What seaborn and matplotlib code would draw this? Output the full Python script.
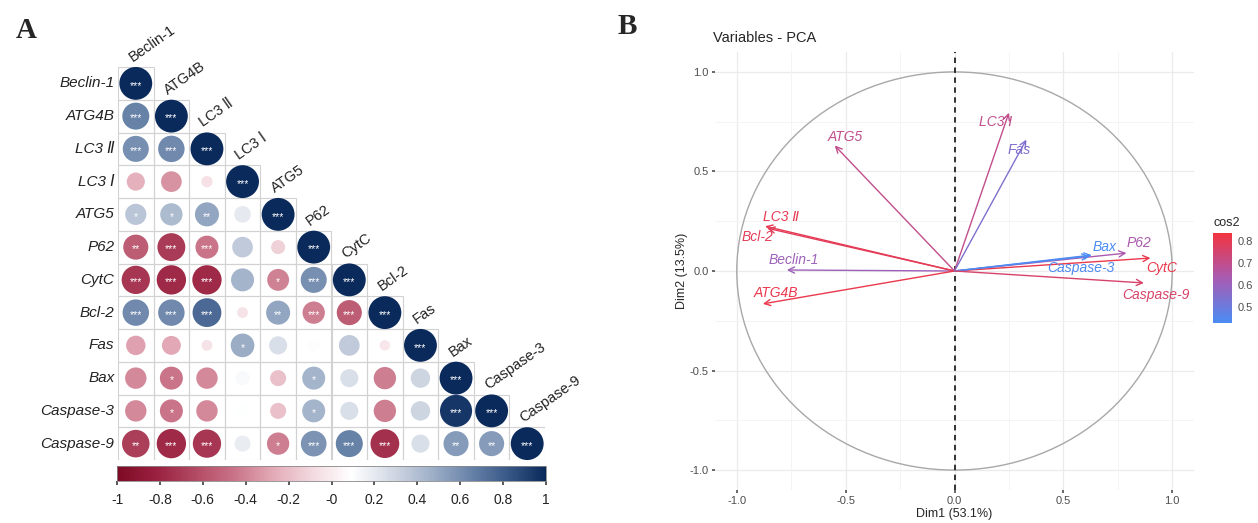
import numpy as np
import pandas as pd
import matplotlib
matplotlib.use('Agg')
import matplotlib.pyplot as plt
import seaborn as sns
from matplotlib.colors import LinearSegmentedColormap, Normalize
from matplotlib.patches import Rectangle, Circle
import matplotlib as mpl

sns.set_theme(style='white')
plt.rcParams['font.family'] = ['Liberation Sans', 'DejaVu Sans']
plt.rcParams['axes.unicode_minus'] = False

# ---- data: correlation matrix (lower triangle, diagonal = 1) ----
genes = ['Beclin-1', 'ATG4B', 'LC3 Ⅱ', 'LC3 Ⅰ', 'ATG5', 'P62', 'CytC',
         'Bcl-2', 'Fas', 'Bax', 'Caspase-3', 'Caspase-9']

corr_rows = [
    [],
    [0.65],
    [0.60, 0.62],
    [-0.25, -0.35, -0.05],
    [0.37, 0.42, 0.50, 0.20],
    [-0.55, -0.70, -0.45, 0.35, -0.12],
    [-0.72, -0.78, -0.78, 0.45, -0.40, 0.60],
    [0.62, 0.62, 0.75, -0.04, 0.50, -0.42, -0.55],
    [-0.30, -0.28, -0.04, 0.48, 0.25, 0.08, 0.35, -0.03],
    [-0.38, -0.45, -0.38, 0.12, -0.18, 0.45, 0.25, -0.42, 0.30],
    [-0.38, -0.45, -0.38, 0.10, -0.18, 0.45, 0.25, -0.42, 0.30, 0.95],
    [-0.68, -0.78, -0.72, 0.18, -0.42, 0.58, 0.65, -0.75, 0.25, 0.55, 0.55],
]
star_rows = [
    [],
    ['***'],
    ['***', '***'],
    ['', '', ''],
    ['*', '*', '**', ''],
    ['**', '***', '***', '', ''],
    ['***', '***', '***', '', '*', '***'],
    ['***', '***', '***', '', '**', '***', '***'],
    ['', '', '', '*', '', '', '', ''],
    ['', '*', '', '', '', '*', '', '', ''],
    ['', '*', '', '', '', '*', '', '', '', '***'],
    ['**', '***', '***', '', '*', '***', '***', '***', '', '**', '**'],
]

# ---- data: PCA variables ----
pca_vars = ['Beclin-1', 'ATG4B', 'LC3 Ⅱ', 'LC3 Ⅰ', 'ATG5', 'P62', 'CytC',
            'Bcl-2', 'Fas', 'Bax', 'Caspase-3', 'Caspase-9']
dim1 = [-0.77, -0.88, -0.87, 0.25, -0.55, 0.79, 0.90, -0.86, 0.33, 0.63, 0.62, 0.87]
dim2 = [0.005, -0.165, 0.225, 0.795, 0.63, 0.09, 0.065, 0.215, 0.66, 0.08, 0.075, -0.06]
cos2 = [0.61, 0.81, 0.80, 0.70, 0.70, 0.64, 0.81, 0.79, 0.55, 0.43, 0.44, 0.76]

# label offsets from arrow tips (layout only)
label_off = {
    'Beclin-1': (0.03, 0.05), 'ATG4B': (0.06, 0.055), 'LC3 Ⅱ': (0.075, 0.045),
    'LC3 Ⅰ': (-0.06, -0.045), 'ATG5': (0.05, 0.045), 'P62': (0.055, 0.05),
    'CytC': (0.05, -0.05), 'Bcl-2': (-0.045, -0.045), 'Fas': (-0.035, -0.05),
    'Bax': (0.06, 0.04), 'Caspase-3': (-0.04, -0.06), 'Caspase-9': (0.055, -0.06),
}

# build long table for the matrix
recs = []
for i, row in enumerate(corr_rows):
    for j, r in enumerate(row + [1.0]):
        st = (star_rows[i] + ['***'])[j]
        recs.append({'row': i, 'col': j, 'r': r, 'size': abs(r), 'stars': st})
df = pd.DataFrame(recs)

corr_cmap = LinearSegmentedColormap.from_list('corr', [
    '#7d0a25', '#9a2140', '#b24a63', '#c97388', '#e3aab7', '#f2d9df', '#ffffff',
    '#d5dbe6', '#a3b3ca', '#6c86ab', '#3a5a88', '#0a2a5c'])
cos2_cmap = LinearSegmentedColormap.from_list('cos2', ['#4a8cf4', '#a85bb2', '#f3333f'])

fig = plt.figure(figsize=(12.58, 5.23), dpi=100)
W, H = 1258, 523

# ---------------- panel A ----------------
ax = fig.add_axes([118 / W, 1 - 460 / H, 427 / W, 393 / H])
n = len(genes)
for i in range(n):
    for j in range(i + 1):
        ax.add_patch(Rectangle((j - 0.5, i - 0.5), 1, 1, fill=False,
                               edgecolor='#d2d2d2', lw=0.8, zorder=1))
sns.scatterplot(data=df, x='col', y='row', hue='r', palette=corr_cmap,
                hue_norm=(-1, 1), size='size', sizes=(40, 560), size_norm=(0, 1),
                legend=False, linewidth=0, ax=ax, zorder=2)
for _, rw in df.iterrows():
    if rw['stars']:
        ax.text(rw['col'], rw['row'] + 0.07, rw['stars'], color='white',
                fontsize=7.5, ha='center', va='center', zorder=3)
for i, g in enumerate(genes):
    ax.text(-0.6, i, g, ha='right', va='center', style='italic', fontsize=11,
            color='#222222')
    ax.text(i - 0.05, i - 0.58, g, rotation=35, ha='left', va='bottom',
            rotation_mode='anchor', fontsize=10.5, color='#222222')
ax.set_xlim(-0.5, n - 0.5)
ax.set_ylim(n - 0.5, -0.5)
ax.set_xlabel('')
ax.set_ylabel('')
ax.set_xticks([])
ax.set_yticks([])
for s in ax.spines.values():
    s.set_visible(False)

cax = fig.add_axes([117 / W, 1 - 481 / H, 429 / W, 15 / H])
cb = mpl.colorbar.ColorbarBase(cax, cmap=corr_cmap, norm=Normalize(-1, 1),
                               orientation='horizontal')
ticks = np.round(np.arange(-1, 1.01, 0.2), 1)
cb.set_ticks(ticks)
cb.set_ticklabels(['%g' % t for t in ticks])
cax.tick_params(labelsize=10, length=3, color='#444444', labelcolor='#222222', pad=6)
cb.outline.set_edgecolor('#888888')
cb.outline.set_linewidth(0.6)

fig.text(26 / W, 1 - 30 / H, 'A', fontsize=21, fontweight='bold',
         family='Liberation Serif', ha='center', va='center')
fig.text(627 / W, 1 - 26 / H, 'B', fontsize=21, fontweight='bold',
         family='Liberation Serif', ha='center', va='center')

# ---------------- panel B ----------------
bx = fig.add_axes([715 / W, 1 - 490 / H, 479 / W, 438 / H])
bx.set_xlim(-1.1, 1.1)
bx.set_ylim(-1.1, 1.1)
major = [-1, -0.5, 0, 0.5, 1]
minor = [-0.75, -0.25, 0.25, 0.75]
for v in major:
    bx.axvline(v, color='#ebebeb', lw=0.9, zorder=0)
    bx.axhline(v, color='#ebebeb', lw=0.9, zorder=0)
for v in minor:
    bx.axvline(v, color='#f3f3f3', lw=0.6, zorder=0)
    bx.axhline(v, color='#f3f3f3', lw=0.6, zorder=0)
bx.add_patch(Circle((0, 0), 1, fill=False, edgecolor='#a8a8a8', lw=1.0, zorder=1))
bx.axvline(0, color='#222222', ls=(0, (3, 2.5)), lw=1.3, zorder=2)

cnorm = Normalize(0.43, 0.835)
for name, x, y, c in zip(pca_vars, dim1, dim2, cos2):
    col = cos2_cmap(cnorm(c))
    bx.annotate('', xy=(x, y), xytext=(0, 0),
                arrowprops=dict(arrowstyle='->', color=col, lw=1.0,
                                shrinkA=0, shrinkB=0, mutation_scale=11), zorder=3)
    dx, dy = label_off[name]
    bx.text(x + dx, y + dy, name, color=col, style='italic', fontsize=10,
            ha='center', va='center', zorder=4)

bx.set_xticks(major)
bx.set_yticks(major)
bx.set_xticklabels(['-1.0', '-0.5', '0.0', '0.5', '1.0'])
bx.set_yticklabels(['-1.0', '-0.5', '0.0', '0.5', '1.0'])
bx.tick_params(labelsize=8, labelcolor='#4d4d4d', length=2.5, color='#555555',
               bottom=True, left=True, pad=2)
for s in bx.spines.values():
    s.set_visible(False)
bx.set_xlabel('Dim1 (53.1%)', fontsize=9, labelpad=1)
bx.set_ylabel('Dim2 (13.5%)', fontsize=9, labelpad=1)
bx.set_title('Variables - PCA', loc='left', fontsize=10.5, pad=7, x=-0.005)

lax = fig.add_axes([1213 / W, 1 - 323 / H, 19 / W, 90 / H])
lcb = mpl.colorbar.ColorbarBase(lax, cmap=cos2_cmap, norm=cnorm, orientation='vertical')
lcb.set_ticks([0.5, 0.6, 0.7, 0.8])
lcb.set_ticklabels(['0.5', '0.6', '0.7', '0.8'])
lcb.outline.set_visible(False)
lax.tick_params(labelsize=8, labelcolor='#4d4d4d', length=3, color='white',
                direction='in', pad=4)
lax.set_title('cos2', fontsize=9, loc='left', pad=5)

plt.savefig('out.png', dpi=100)
